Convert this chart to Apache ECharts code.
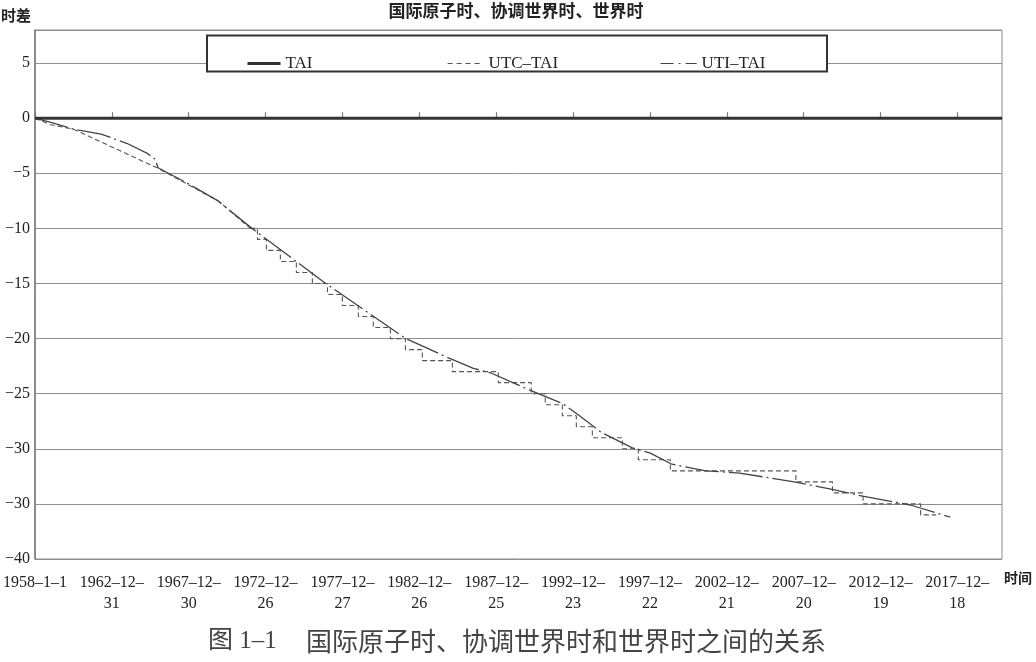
<!DOCTYPE html>
<html><head><meta charset="utf-8">
<script src="https://cdn.jsdelivr.net/npm/echarts@6/dist/echarts.min.js"></script>
<style>html,body{margin:0;padding:0;background:#fff}#c{width:1036px;height:662px}</style>
</head><body><div id="c"></div>
<script>
// ---- data (x in decimal years, y in seconds) ----
const xTickLabels = ['1958–1–1','1962–12–\n31','1967–12–\n30','1972–12–\n26','1977–12–\n27','1982–12–\n26','1987–12–\n25','1992–12–\n23','1997–12–\n22','2002–12–\n21','2007–12–\n20','2012–12–\n19','2017–12–\n18'];
const yTickLabels = ['−40','−30','−30','−25','−20','−15','−10','−5','0','5']; // from −40 upward, every 5
const taiYears = [1958.0, 2020.86];
const taiValues = [0, 0];
const utcEarlyYears = [1958.0, 1959.0, 1960.5, 1966.0, 1969.9, 1972.0];
const utcEarlyValues = [0, -0.6, -1.0, -4.55, -7.5, -10.0];
const utcStepYears = [1972.0, 1972.46, 1973.04, 1973.95, 1974.99, 1976.03, 1977.01, 1977.98, 1979.02, 1979.99, 1981.10, 1982.08, 1983.18, 1985.13, 1988.12, 1990.26, 1991.17, 1992.28, 1993.19, 1994.23, 1996.18, 1997.22, 1999.30, 2007.46, 2009.84, 2011.83, 2015.57, 2016.58];
const utcStepValues = [-10, -11, -12, -13, -14, -15, -16, -17, -18, -19, -20, -21, -22, -23, -24, -25, -26, -27, -28, -29, -30, -31, -32, -33, -34, -35, -36, -36];
const ut1Years = [1958.0, 1959.2, 1960.5, 1962.3, 1964.0, 1965.3, 1965.8, 1966.0, 1967.9, 1969.9, 1972.1, 1976.9, 1982.1, 1984.8, 1986.5, 1987.6, 1990.2, 1992.3, 1993.2, 1994.8, 1996.8, 1998.0, 1999.4, 2001.6, 2003.8, 2007.35, 2009.9, 2011.8, 2014.9, 2017.5];
const ut1Values = [0, -0.45, -1.0, -1.45, -2.3, -3.2, -3.7, -4.5, -5.9, -7.5, -10.0, -15.0, -20.0, -21.7, -22.7, -23.1, -24.7, -25.9, -26.8, -28.5, -29.9, -30.4, -31.4, -32.0, -32.2, -33.0, -33.7, -34.3, -35.1, -36.2];

// axis unit: days since 1958-01-01; ticks every 1825 days
const DAY0 = 1958.0, TICK_DAYS = 1825;
const toDays = y => (y - DAY0) * 365.25;
const pairs = (xs, ys) => xs.map((x, i) => [toDays(x), ys[i]]);

const serif = '"Liberation Serif", "Noto Sans CJK SC", serif';
const cjk = '"Noto Sans CJK SC", sans-serif';
const hiddenSymbol = {opacity: 0, color: 'transparent', borderWidth: 0};

const chart = echarts.init(document.getElementById('c'), null, {renderer: 'canvas'});
chart.setOption({
  animation: false,
  backgroundColor: '#fff',
  grid: {left: 34, right: 34, top: 30, bottom: 103, show: true, borderColor: '#8a8a8a', borderWidth: 1, backgroundColor: 'transparent'},
  xAxis: {
    type: 'value', min: 0, max: toDays(taiYears[1]), interval: TICK_DAYS,
    axisLine: {show: true, lineStyle: {color: '#7a7a7a', width: 1.5}},
    axisTick: {show: true, inside: true, length: 6, lineStyle: {color: '#7a7a7a', width: 1.2}},
    splitLine: {show: false},
    axisLabel: {
      showMaxLabel: false, margin: 13,
      color: '#222', fontSize: 16, fontFamily: serif, lineHeight: 21,
      formatter: v => { const i = Math.round(v / TICK_DAYS); return (Math.abs(v - i * TICK_DAYS) < 1 && xTickLabels[i]) ? xTickLabels[i] : ''; }
    }
  },
  yAxis: {
    type: 'value', min: -40, max: 8, interval: 5,
    axisLine: {show: true, lineStyle: {color: '#7a7a7a', width: 1.5}},
    axisTick: {show: false},
    splitLine: {show: true, lineStyle: {color: '#8f8f8f', width: 1}},
    axisLabel: {
      showMaxLabel: false, margin: 5, color: '#222', fontSize: 16, fontFamily: serif,
      formatter: v => { const i = Math.round((v + 40) / 5); return (Math.abs(v + 40 - i * 5) < 1e-6 && yTickLabels[i] !== undefined) ? yTickLabels[i] : ''; }
    }
  },
  legend: [
    {data: ['TAI'], left: 246, top: 55, padding: 0, itemWidth: 33, itemHeight: 14, z: 6,
     textStyle: {color: '#222', fontSize: 17, fontFamily: serif},
     itemStyle: hiddenSymbol, lineStyle: {width: 3}},
    {data: ['UTC–TAI'], left: 447, top: 55, padding: 0, itemWidth: 36, itemHeight: 14, z: 6,
     textStyle: {color: '#222', fontSize: 17, fontFamily: serif},
     itemStyle: hiddenSymbol, lineStyle: {width: 1.2, type: [5, 4]}},
    {data: ['UTI–TAI'], left: 660, top: 55, padding: 0, itemWidth: 36, itemHeight: 14, z: 6,
     textStyle: {color: '#222', fontSize: 17, fontFamily: serif},
     itemStyle: hiddenSymbol, lineStyle: {width: 1.2, type: [13, 5, 2, 5]}}
  ],
  graphic: [
    {type: 'rect', z: 5, shape: {x: 207, y: 35.5, width: 620, height: 36}, style: {fill: '#fff', stroke: '#333', lineWidth: 2}},
    {type: 'text', z: 5, style: {text: '国际原子时、协调世界时、世界时', x: 516, y: 11, font: 'bold 17px ' + cjk, fill: '#222', align: 'center', verticalAlign: 'middle', textAlign: 'center', textVerticalAlign: 'middle'}},
    {type: 'text', z: 5, style: {text: '时差', x: 1, y: 15, font: 'bold 15px ' + cjk, fill: '#222', align: 'left', verticalAlign: 'middle', textAlign: 'left', textVerticalAlign: 'middle'}},
    {type: 'text', z: 5, style: {text: '时间', x: 1004, y: 578, font: 'bold 14px ' + cjk, fill: '#222', align: 'left', verticalAlign: 'middle', textAlign: 'left', textVerticalAlign: 'middle'}},
    {type: 'text', z: 5, style: {text: '图 1–1', x: 208, y: 641, font: '25px ' + serif, fill: '#444', align: 'left', verticalAlign: 'middle', textAlign: 'left', textVerticalAlign: 'middle'}},
    {type: 'text', z: 5, style: {text: '国际原子时、协调世界时和世界时之间的关系', x: 306, y: 641, font: '26px ' + cjk, fill: '#444', align: 'left', verticalAlign: 'middle', textAlign: 'left', textVerticalAlign: 'middle'}}
  ],
  series: [
    {name: 'TAI', type: 'line', data: pairs(taiYears, taiValues), showSymbol: false, symbol: 'none', z: 4,
     lineStyle: {color: '#333', width: 3}, itemStyle: {color: '#333'}},
    {name: 'UTC–TAI', type: 'line', data: pairs(utcEarlyYears, utcEarlyValues), showSymbol: false, symbol: 'none', z: 3,
     lineStyle: {color: '#555', width: 1.1, type: [5, 3]}, itemStyle: {color: '#555'}},
    {name: 'UTC–TAI', type: 'line', step: 'end', data: pairs(utcStepYears, utcStepValues), showSymbol: false, symbol: 'none', z: 3,
     lineStyle: {color: '#555', width: 1.1, type: [5, 3]}, itemStyle: {color: '#555'}},
    {name: 'UTI–TAI', type: 'line', data: pairs(ut1Years, ut1Values), showSymbol: false, symbol: 'none', z: 3,
     lineStyle: {color: '#444', width: 1.3, type: [34, 4, 2, 4]}, itemStyle: {color: '#444'}}
  ]
});
</script>
</body></html>
